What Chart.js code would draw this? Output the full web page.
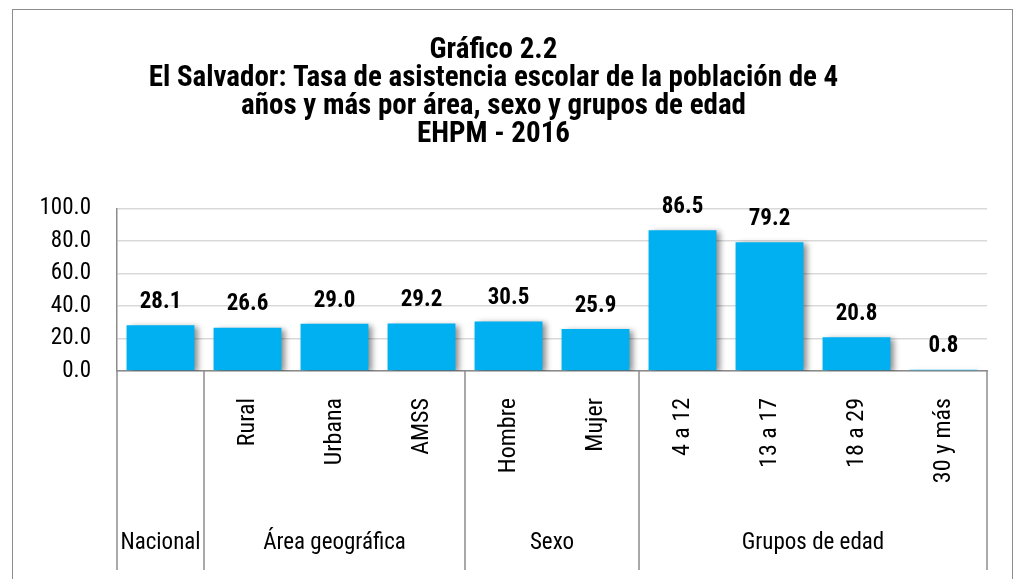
<!DOCTYPE html>
<html>
<head>
<meta charset="utf-8">
<script src="https://cdn.jsdelivr.net/npm/chart.js@4/dist/chart.umd.min.js"></script>
<style>
  html, body { margin: 0; padding: 0; background: #fff; }
  #wrap { width: 1016px; height: 579px; position: relative; }
</style>
</head>
<body>
<div id="wrap"><canvas id="barChart"></canvas></div>
<script>
const categories = ['Nacional', 'Rural', 'Urbana', 'AMSS', 'Hombre', 'Mujer', '4 a 12', '13 a 17', '18 a 29', '30 y más'];
const tickLabels = ['', 'Rural', 'Urbana', 'AMSS', 'Hombre', 'Mujer', '4 a 12', '13 a 17', '18 a 29', '30 y más'];
const values = [28.1, 26.6, 29.0, 29.2, 30.5, 25.9, 86.5, 79.2, 20.8, 0.8];
const groupNames = ['Nacional', 'Área geográfica', 'Sexo', 'Grupos de edad'];
const groupSizes = [1, 3, 2, 4];
const yTicks = [0, 20, 40, 60, 80, 100];

const narrow = "'Liberation Sans Narrow', 'Arial Narrow', 'Roboto Condensed', Arial, sans-serif";
Chart.defaults.font.family = narrow;
Chart.defaults.color = '#000';

// outer frame of the figure
const framePlugin = {
  id: 'frame',
  beforeDraw(chart) {
    const ctx = chart.ctx;
    ctx.save();
    ctx.strokeStyle = '#8c8c8c';
    ctx.lineWidth = 1;
    ctx.strokeRect(12.5, 9.5, 1000, 600);
    ctx.restore();
  }
};

// soft shadow behind the bars
const shadowPlugin = {
  id: 'barShadow',
  beforeDatasetsDraw(chart) {
    const ctx = chart.ctx;
    ctx.save();
    ctx.shadowColor = 'rgba(0,0,0,0.45)';
    ctx.shadowBlur = 6;
    ctx.shadowOffsetX = 4;
    ctx.shadowOffsetY = 2;
  },
  afterDatasetsDraw(chart) {
    chart.ctx.restore();
  }
};

// value labels above bars
const valueLabels = {
  id: 'valueLabels',
  afterDatasetsDraw(chart) {
    const ctx = chart.ctx;
    const meta = chart.getDatasetMeta(0);
    ctx.save();
    ctx.font = 'bold 23px ' + narrow;
    ctx.fillStyle = '#000';
    ctx.textAlign = 'center';
    ctx.textBaseline = 'middle';
    meta.data.forEach((bar, i) => {
      ctx.fillText(values[i].toFixed(1), bar.x, bar.y - 23);
    });
    ctx.restore();
  }
};

// second level of the category axis: group names and separators
const groupAxis = {
  id: 'groupAxis',
  afterDraw(chart) {
    const ctx = chart.ctx;
    const x = chart.scales.x;
    const top = chart.chartArea.bottom;
    const bottom = 570;
    const half = (x.getPixelForValue(1) - x.getPixelForValue(0)) / 2;
    ctx.save();
    ctx.strokeStyle = '#8c8c8c';
    ctx.lineWidth = 1.5;
    ctx.fillStyle = '#000';
    ctx.font = '23px ' + narrow;
    ctx.textAlign = 'center';
    ctx.textBaseline = 'middle';
    let start = 0;
    const line = (px) => {
      ctx.beginPath();
      ctx.moveTo(px, top);
      ctx.lineTo(px, bottom);
      ctx.stroke();
    };
    line(x.getPixelForValue(0) - half);
    groupSizes.forEach((n, g) => {
      const left = x.getPixelForValue(start) - half;
      const right = x.getPixelForValue(start + n - 1) + half;
      line(right);
      ctx.fillText(groupNames[g], (left + right) / 2, 543);
      start += n;
    });
    ctx.restore();
  }
};

const ctx = document.getElementById('barChart').getContext('2d');
new Chart(ctx, {
  type: 'bar',
  data: {
    labels: categories,
    datasets: [{
      label: 'Tasa de asistencia',
      data: values,
      backgroundColor: '#00B0F0',
      borderWidth: 0,
      barPercentage: 0.78,
      categoryPercentage: 1
    }]
  },
  options: {
    responsive: true,
    maintainAspectRatio: false,
    animation: false,
    layout: { padding: { left: 0, right: 29, top: 0, bottom: 0 } },
    plugins: {
      legend: { display: false },
      tooltip: { enabled: false },
      title: {
        display: true,
        text: [
          'Gráfico 2.2',
          'El Salvador: Tasa de asistencia escolar de la población de 4',
          'años y más por área, sexo y grupos de edad',
          'EHPM - 2016'
        ],
        font: { size: 29, weight: 'bold', lineHeight: 0.96 },
        color: '#000',
        padding: { top: 37, bottom: 60 }
      }
    },
    scales: {
      x: {
        grid: { display: false, drawTicks: false },
        border: { color: '#8c8c8c', width: 1.5 },
        ticks: {
          autoSkip: false,
          minRotation: 90,
          maxRotation: 90,
          padding: 27,
          font: { size: 24 },
          callback: (v, i) => tickLabels[i]
        },
        afterFit: (scale) => { scale.height = 208; }
      },
      y: {
        min: 0,
        max: 100,
        afterBuildTicks: (scale) => { scale.ticks = yTicks.map(v => ({ value: v })); },
        grid: { color: '#d9d9d9', lineWidth: 1.5, drawTicks: false },
        border: { color: '#8c8c8c', width: 1.5 },
        ticks: {
          padding: 26,
          font: { size: 23 },
          callback: (v) => v.toFixed(1)
        },
        afterFit: (scale) => { scale.width = 117; }
      }
    }
  },
  plugins: [framePlugin, shadowPlugin, valueLabels, groupAxis]
});
</script>
</body>
</html>
